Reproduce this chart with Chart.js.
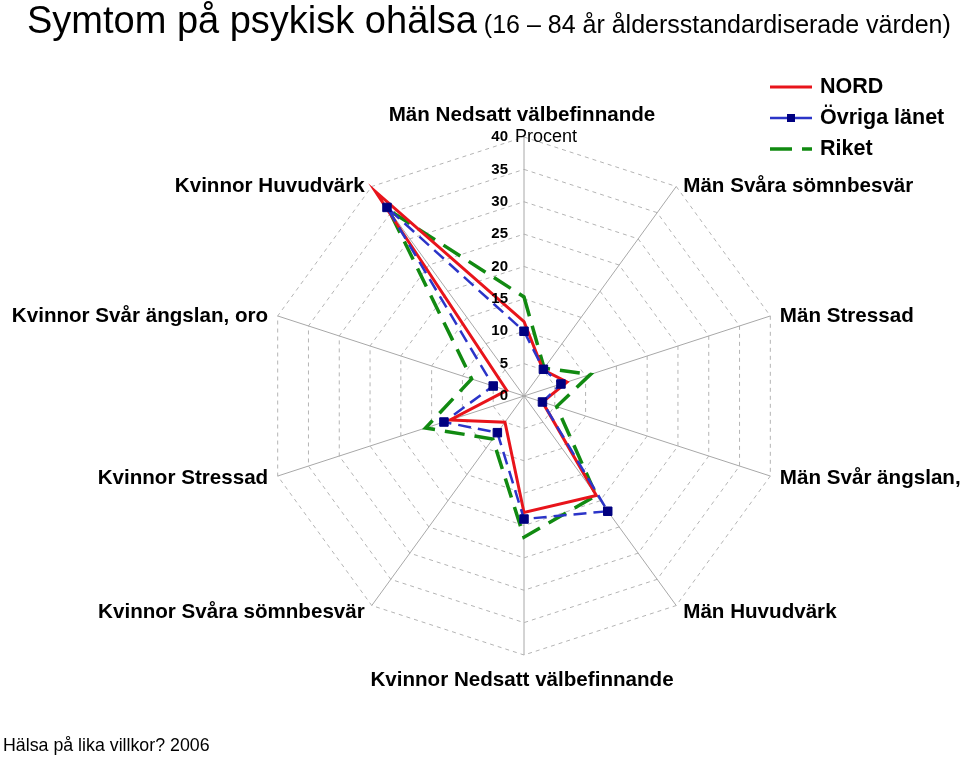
<!DOCTYPE html>
<html>
<head>
<meta charset="utf-8">
<script src="https://cdn.jsdelivr.net/npm/chart.js@4.4.0/dist/chart.umd.min.js"></script>
<style>
body { margin: 0; background: #fff; }
</style>
</head>
<body>
<canvas id="radar" width="960" height="759"></canvas>
<script>
// Axis categories, clockwise from the top
const CATEGORIES = [
    "Män Nedsatt välbefinnande",
    "Män Svåra sömnbesvär",
    "Män Stressad",
    "Män Svår ängslan, oro",
    "Män Huvudvärk",
    "Kvinnor Nedsatt välbefinnande",
    "Kvinnor Svåra sömnbesvär",
    "Kvinnor Stressad",
    "Kvinnor Svår ängslan, oro",
    "Kvinnor Huvudvärk"
];
const SERIES_NAMES = ["NORD", "Övriga länet", "Riket"];
const NORD = [11.5, 5, 7, 3, 19, 18, 5, 12, 2.8, 39];
const OVRIGA = [10, 5.1, 6, 3, 22, 19, 7, 13, 5, 36];
const RIKET = [15.3, 5.3, 10.8, 5.3, 19, 21.8, 8.2, 16, 8.5, 35.5];
const TICK_MIN = 0, TICK_MAX = 40, TICK_STEP = 5;

const TITLE = "Symtom på psykisk ohälsa";
const SUBTITLE = "(16 – 84 år åldersstandardiserade värden)";
const UNIT = "Procent";
const FOOTER = "Hälsa på lika villkor? 2006";
const FONT = '"Liberation Sans", Arial, sans-serif';

//Draws every text of the picture: title, legend, axis names and tick numbers
const textPlugin = {
    id: 'textOverlay',
    afterDraw(chart) {
        const ctx = chart.ctx;
        const scale = chart.scales.r;
        const R = scale.drawingArea;
        const cx = scale.xCenter, cy = scale.yCenter;
        ctx.save();
        ctx.fillStyle = "#000";

        // title + subtitle on one line
        ctx.textAlign = "left";
        ctx.textBaseline = "alphabetic";
        ctx.font = "38px " + FONT;
        ctx.fillText(TITLE, 27, 33);
        const tw = ctx.measureText(TITLE).width;
        ctx.font = "25px " + FONT;
        ctx.fillText(SUBTITLE, 27 + tw + 7, 33);

        // footer
        ctx.font = "17.8px " + FONT;
        ctx.textBaseline = "middle";
        ctx.fillText(FOOTER, 3, 746);

        // tick numbers, left of the vertical axis
        ctx.font = "bold 15px " + FONT;
        ctx.textAlign = "right";
        scale.ticks.forEach(function (tick) {
            const r = scale.getDistanceFromCenterForValue(tick.value);
            ctx.fillText(String(tick.value), cx - 16, cy - r);
        });
        ctx.font = "18px " + FONT;
        ctx.textAlign = "left";
        ctx.fillText(UNIT, cx - 9, cy - R);

        // axis names
        ctx.font = "bold 20.6px " + FONT;
        CATEGORIES.forEach(function (label, i) {
            const a = i * 2 * Math.PI / CATEGORIES.length;
            const p = scale.getPointPosition(i, R);
            const s = Math.sin(a), c = Math.cos(a);
            if (Math.abs(s) < 0.01) {
                ctx.textAlign = "center";
                ctx.fillText(label, p.x - 2, c > 0 ? p.y - 22 : p.y + 25);
                return;
            }
            ctx.textAlign = s > 0 ? "left" : "right";
            const dx = (s > 0 ? 1 : -1) * Math.max(7, 10 * Math.abs(s));
            const dy = Math.max(0, -c) * 8;
            ctx.fillText(label, p.x + dx, p.y + dy);
        });

        // legend, top right
        ctx.font = "bold 21.5px " + FONT;
        ctx.textAlign = "left";
        chart.data.datasets.forEach(function (ds, i) {
            const y = 87 + i * 31;
            ctx.save();
            ctx.strokeStyle = ds.borderColor;
            ctx.lineWidth = ds.borderWidth;
            ctx.setLineDash(ds.legendDash);
            ctx.beginPath();
            ctx.moveTo(770, y);
            ctx.lineTo(812, y);
            ctx.stroke();
            if (ds.pointRadius > 0) {
                ctx.fillStyle = ds.pointBackgroundColor;
                ctx.fillRect(787, y - 4, 8, 8);
            }
            ctx.restore();
            ctx.fillText(ds.label, 820, y);
        });
        ctx.restore();
    }
};

const ctx = document.getElementById("radar").getContext("2d");
const radar = new Chart(ctx, {
    type: "radar",
    data: {
        labels: CATEGORIES,
        datasets: [
            {
                label: SERIES_NAMES[0],
                data: NORD,
                borderColor: "#e8141b",
                borderWidth: 3,
                pointRadius: 0,
                fill: false,
                order: 1,
                legendDash: []
            },
            {
                label: SERIES_NAMES[1],
                data: OVRIGA,
                borderColor: "#2b34c8",
                borderWidth: 2.5,
                borderDash: [13, 7],
                pointStyle: "rect",
                pointRadius: 6,
                pointBackgroundColor: "#000080",
                pointBorderColor: "#000080",
                pointBorderWidth: 1,
                fill: false,
                order: 0,
                legendDash: []
            },
            {
                label: SERIES_NAMES[2],
                data: RIKET,
                borderColor: "#118a11",
                borderWidth: 3.5,
                borderDash: [20, 10],
                pointRadius: 0,
                fill: false,
                order: 2,
                legendDash: [22, 10]
            }
        ]
    },
    options: {
        responsive: false,
        animation: false,
        layout: {
            padding: {left: 265, right: 177, top: 137, bottom: 104}
        },
        plugins: {
            legend: {display: false},
            tooltip: {enabled: false}
        },
        scales: {
            r: {
                min: TICK_MIN,
                max: TICK_MAX,
                ticks: {stepSize: TICK_STEP, display: false},
                pointLabels: {display: false},
                grid: {color: "#b4b4b4", lineWidth: 1},
                border: {dash: [4, 4]},
                angleLines: {color: "#a8a8a8", lineWidth: 1}
            }
        }
    },
    plugins: [textPlugin]
});
</script>
</body>
</html>
